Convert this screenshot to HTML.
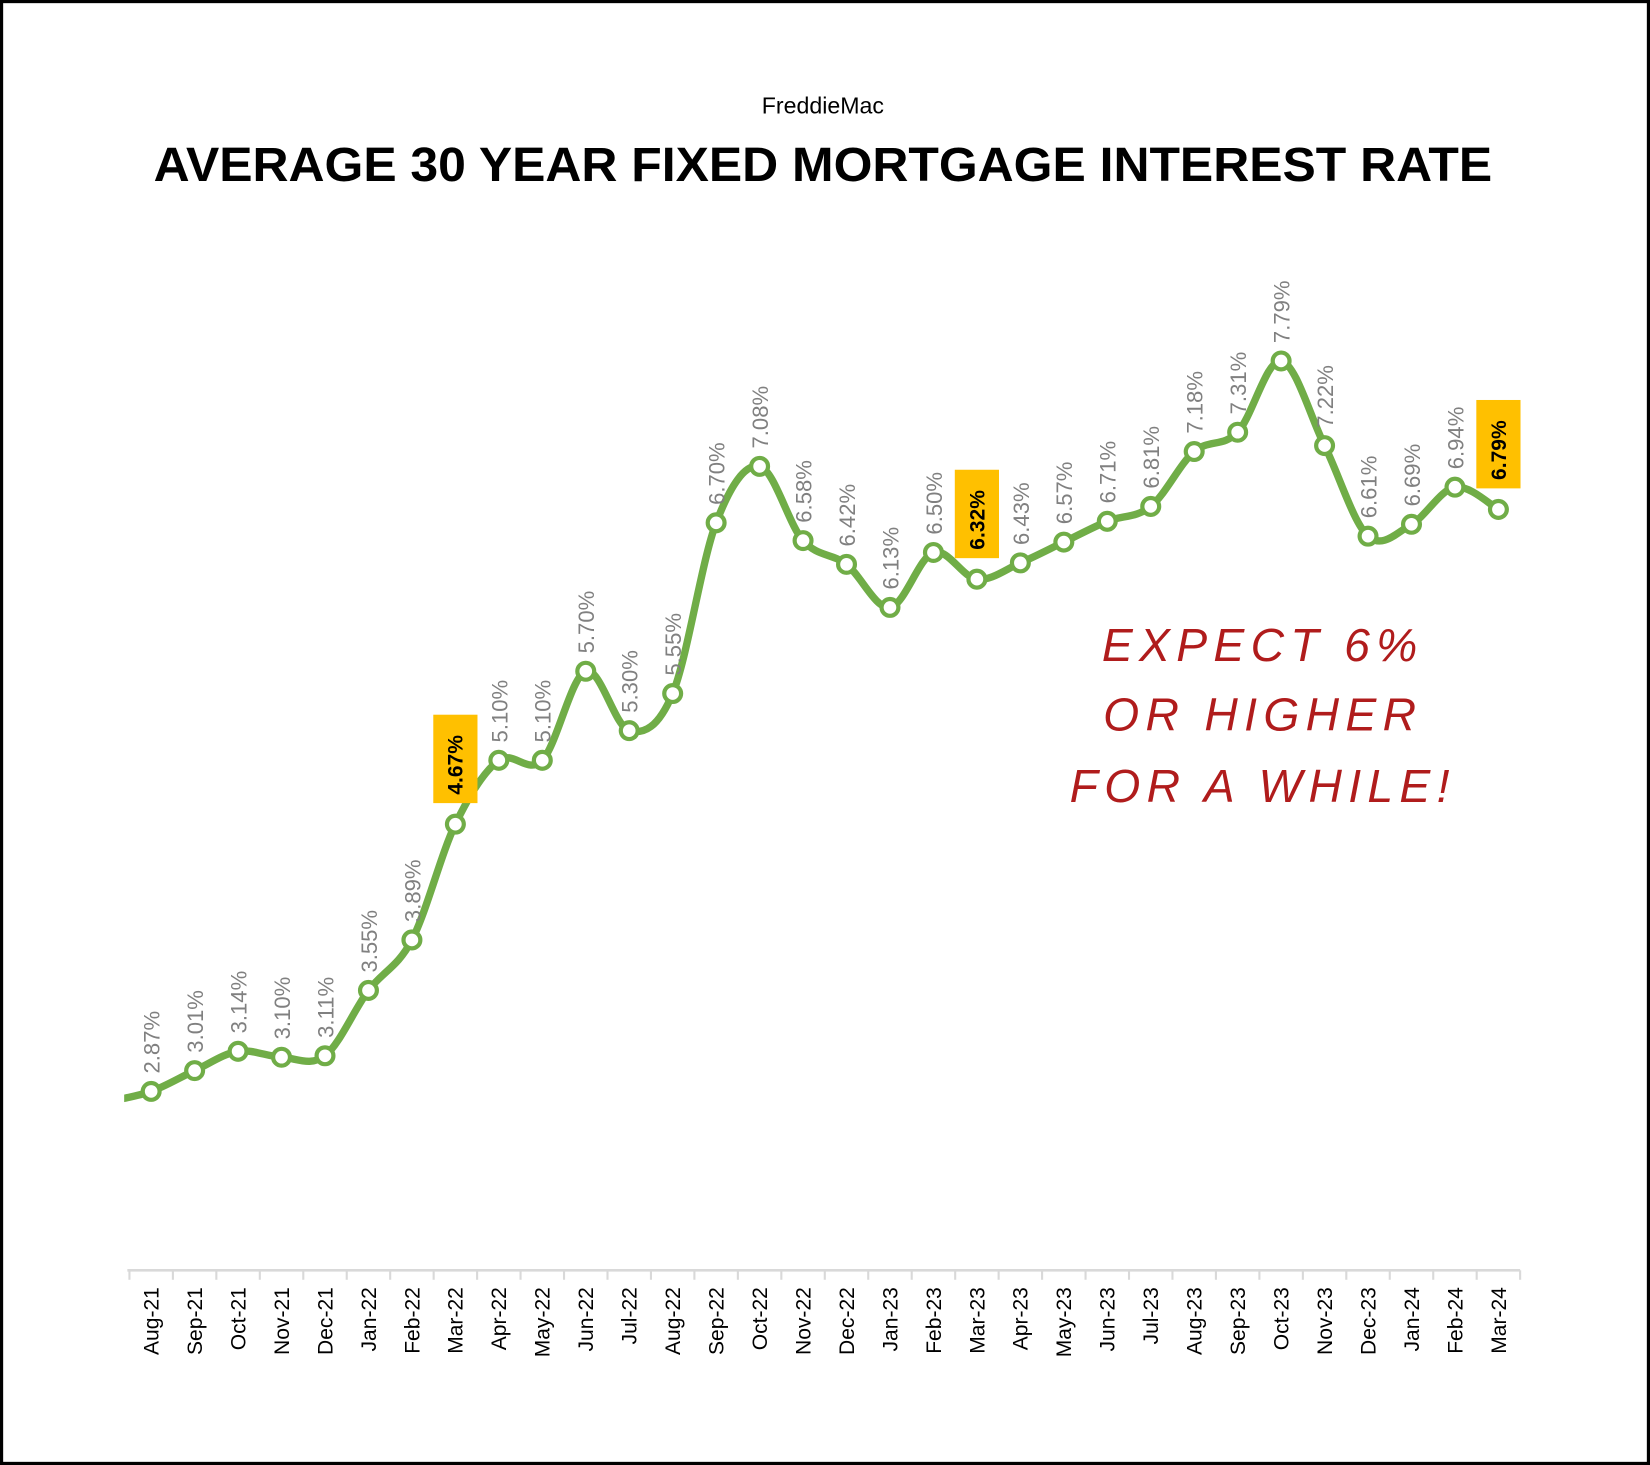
<!DOCTYPE html>
<html><head><meta charset="utf-8"><style>
html,body{margin:0;padding:0;background:#fff;}
svg{display:block;}
</style></head><body>
<svg id="chart" width="1650" height="1465" viewBox="0 0 1568 1392" preserveAspectRatio="none" xmlns="http://www.w3.org/2000/svg" font-family="'Liberation Sans', sans-serif">
<rect x="1.5" y="1.5" width="1565" height="1389" fill="#fff" stroke="#000" stroke-width="3"/>
<text x="782" y="108" text-anchor="middle" font-size="22" fill="#000">FreddieMac</text>
<text x="782" y="172" text-anchor="middle" font-size="46" font-weight="bold" fill="#000" textLength="1272" lengthAdjust="spacingAndGlyphs">AVERAGE 30 YEAR FIXED MORTGAGE INTEREST RATE</text>
<g fill="#b01c1c" font-size="44" font-style="italic" text-anchor="middle" letter-spacing="6">
<text x="1200" y="628">EXPECT 6%</text>
<text x="1200" y="694">OR HIGHER</text>
<text x="1200" y="762">FOR A WHILE!</text>
</g>
<g id="axis"></g>
<g id="series"></g>
<g id="labels"></g>
</svg>
<script>
const categories = ["Aug-21","Sep-21","Oct-21","Nov-21","Dec-21","Jan-22","Feb-22","Mar-22","Apr-22","May-22","Jun-22","Jul-22","Aug-22","Sep-22","Oct-22","Nov-22","Dec-22","Jan-23","Feb-23","Mar-23","Apr-23","May-23","Jun-23","Jul-23","Aug-23","Sep-23","Oct-23","Nov-23","Dec-23","Jan-24","Feb-24","Mar-24"];
const rates = [2.87,3.01,3.14,3.10,3.11,3.55,3.89,4.67,5.10,5.10,5.70,5.30,5.55,6.70,7.08,6.58,6.42,6.13,6.50,6.32,6.43,6.57,6.71,6.81,7.18,7.31,7.79,7.22,6.61,6.69,6.94,6.79];
const priorRate = 2.80;
const highlighted = ["Mar-22","Mar-23","Mar-24"];

const NS = "http://www.w3.org/2000/svg";
const plotLeft = 123, step = 41.3, axisY = 1207;
function x(i){ return plotLeft + step*(i+0.5); }
function y(v){ return 1037 - (v-2.87)*141.06; }
function mk(tag, attrs, parent){ const e=document.createElementNS(NS,tag); for(const k in attrs) e.setAttribute(k,attrs[k]); parent.appendChild(e); return e; }

const axis=document.getElementById('axis');
const base = mk('line',{x1:plotLeft-2,y1:axisY,x2:plotLeft+step*categories.length,y2:axisY,stroke:'#d9d9d9','stroke-width':2.5},axis);


for(let i=0;i<=categories.length;i++){
  const t=mk('line',{x1:plotLeft+step*i,y1:axisY,x2:plotLeft+step*i,y2:axisY+9,stroke:'#d9d9d9','stroke-width':2},axis);
  
  
}
categories.forEach((c,i)=>{
  const tx=x(i)+7, ty=axisY+16;
  const t=mk('text',{x:tx,y:ty,transform:`rotate(-90 ${tx} ${ty})`,'text-anchor':'end','font-size':20,fill:'#000'},axis);
  t.textContent=c;
  
  
});

// smoothed line (Catmull-Rom)
const pts=[[x(-1),y(priorRate)]].concat(rates.map((v,i)=>[x(i),y(v)]));
let d=`M${pts[0][0]},${pts[0][1]}`;
for(let i=0;i<pts.length-1;i++){
  const p0=pts[Math.max(0,i-1)],p1=pts[i],p2=pts[i+1],p3=pts[Math.min(pts.length-1,i+2)];
  const c1=[p1[0]+(p2[0]-p0[0])/6,p1[1]+(p2[1]-p0[1])/6];
  const c2=[p2[0]-(p3[0]-p1[0])/6,p2[1]-(p3[1]-p1[1])/6];
  d+=` C${c1[0]},${c1[1]} ${c2[0]},${c2[1]} ${p2[0]},${p2[1]}`;
}
const svg=document.getElementById('chart');
const defs=mk('defs',{},svg);
const cp=mk('clipPath',{id:'clip'},defs);
mk('rect',{x:118,y:0,width:1450,height:1392},cp);
const series=document.getElementById('series');
const line=mk('path',{d:d,fill:'none',stroke:'#70ad47','stroke-width':7,'stroke-linejoin':'round','clip-path':'url(#clip)'},series);


rates.forEach((v,i)=>{
  const c=mk('circle',{cx:x(i),cy:y(v),r:8,fill:'#fff',stroke:'#70ad47','stroke-width':4},series);
  
  
});

const labels=document.getElementById('labels');
rates.forEach((v,i)=>{
  const txt=v.toFixed(2)+'%';
  const px=x(i), py=y(v);
  if(highlighted.includes(categories[i])){
    const bx=px-21, bw=42, bh=84, by=py-20-bh;
    const r=mk('rect',{x:bx,y:by,width:bw,height:bh,fill:'#ffc000'},labels);
    
    
    const tx=px+7, ty=by+bh-8;
    const t=mk('text',{x:tx,y:ty,transform:`rotate(-90 ${tx} ${ty})`,'font-size':20,'font-weight':'bold',fill:'#000'},labels);
    t.textContent=txt;
    
    
  } else {
    const tx=px+8, ty=py-17;
    const t=mk('text',{x:tx,y:ty,transform:`rotate(-90 ${tx} ${ty})`,'font-size':21,fill:'#808080'},labels);
    t.textContent=txt;
    
    
  }
});
</script>
</body></html>
